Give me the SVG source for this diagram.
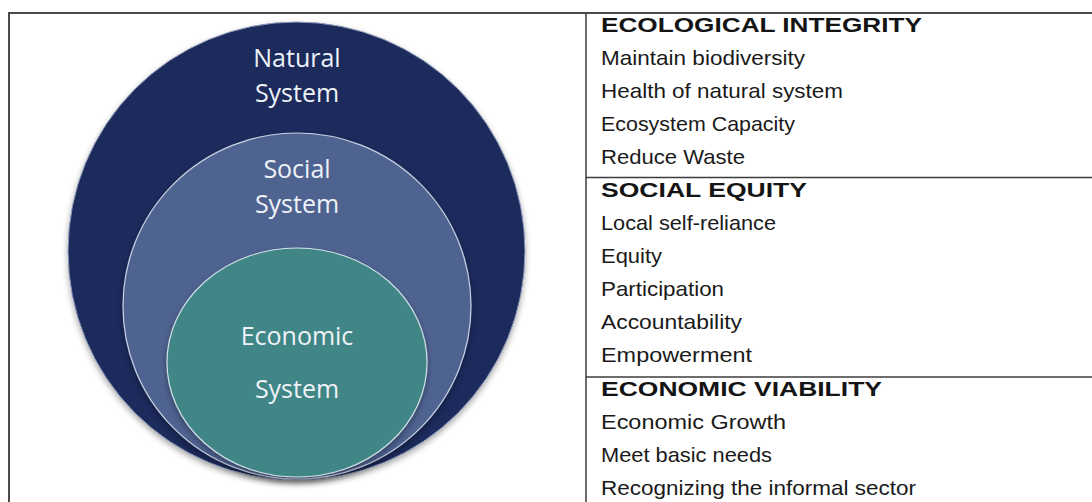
<svg xmlns="http://www.w3.org/2000/svg" width="1092" height="502" viewBox="0 0 1092 502">
  <defs>
    <style>
      .frame { stroke: #4a4a4a; stroke-width: 2; fill: none; }
      .rule { stroke: #3c3c3c; stroke-width: 1.5; fill: none; }
      .ring-label { font-family: "Open Sans", "DejaVu Sans", sans-serif; font-size: 25px; fill: #eef2f7; text-anchor: middle; }
      .head { font-family: "Liberation Sans", Arial, sans-serif; font-size: 21px; font-weight: bold; fill: #141414; }
      .item { font-family: "Liberation Sans", Arial, sans-serif; font-size: 21px; fill: #1a1a1a; }
    </style>
    <filter id="soft" x="-10%" y="-10%" width="120%" height="125%">
      <feGaussianBlur in="SourceAlpha" stdDeviation="3"/>
      <feOffset dy="3"/>
      <feComponentTransfer><feFuncA type="linear" slope="0.35"/></feComponentTransfer>
      <feMerge><feMergeNode/><feMergeNode in="SourceGraphic"/></feMerge>
    </filter>
  </defs>

  <rect width="1092" height="502" fill="#ffffff"/>

  <!-- outer frame and table rules -->
  <g id="frame">
    <path class="frame" d="M9,502 V13 H1092"/>
    <line class="rule" x1="586" y1="13" x2="586" y2="502"/>
    <line class="rule" x1="586" y1="177.5" x2="1092" y2="177.5"/>
    <line class="rule" x1="586" y1="377" x2="1092" y2="377"/>
  </g>

  <!-- nested systems -->
  <g id="natural-system">
    <ellipse cx="296.5" cy="251" rx="228.5" ry="229" fill="#1c2a5c" stroke="#8f9bbb" stroke-width="1" filter="url(#soft)"/>
    <text class="ring-label" x="297" y="67">Natural</text>
    <text class="ring-label" x="297" y="102">System</text>
  </g>
  <g id="social-system">
    <ellipse cx="297" cy="306" rx="174" ry="173" fill="#506391" stroke="#c9d2e4" stroke-width="1.2" filter="url(#soft)"/>
    <text class="ring-label" x="297" y="178">Social</text>
    <text class="ring-label" x="297" y="213">System</text>
  </g>
  <g id="economic-system">
    <ellipse cx="297" cy="362.5" rx="130" ry="114.5" fill="#408686" stroke="#cfe0e4" stroke-width="1.2" filter="url(#soft)"/>
    <text class="ring-label" x="297" y="345">Economic</text>
    <text class="ring-label" x="297" y="398">System</text>
  </g>

  <!-- principles table -->
  <g id="ecological-integrity">
    <text class="head" x="601" y="32" textLength="321" lengthAdjust="spacingAndGlyphs">ECOLOGICAL INTEGRITY</text>
    <text class="item" x="601" y="65" textLength="204" lengthAdjust="spacingAndGlyphs">Maintain biodiversity</text>
    <text class="item" x="601" y="98" textLength="242" lengthAdjust="spacingAndGlyphs">Health of natural system</text>
    <text class="item" x="601" y="131" textLength="194" lengthAdjust="spacingAndGlyphs">Ecosystem Capacity</text>
    <text class="item" x="601" y="164" textLength="144" lengthAdjust="spacingAndGlyphs">Reduce Waste</text>
  </g>
  <g id="social-equity">
    <text class="head" x="601" y="197" textLength="206" lengthAdjust="spacingAndGlyphs">SOCIAL EQUITY</text>
    <text class="item" x="601" y="230" textLength="175" lengthAdjust="spacingAndGlyphs">Local self-reliance</text>
    <text class="item" x="601" y="263" textLength="61" lengthAdjust="spacingAndGlyphs">Equity</text>
    <text class="item" x="601" y="296" textLength="123" lengthAdjust="spacingAndGlyphs">Participation</text>
    <text class="item" x="601" y="329" textLength="141" lengthAdjust="spacingAndGlyphs">Accountability</text>
    <text class="item" x="601" y="362" textLength="151" lengthAdjust="spacingAndGlyphs">Empowerment</text>
  </g>
  <g id="economic-viability">
    <text class="head" x="601" y="396" textLength="281" lengthAdjust="spacingAndGlyphs">ECONOMIC VIABILITY</text>
    <text class="item" x="601" y="429" textLength="185" lengthAdjust="spacingAndGlyphs">Economic Growth</text>
    <text class="item" x="601" y="462" textLength="171" lengthAdjust="spacingAndGlyphs">Meet basic needs</text>
    <text class="item" x="601" y="495" textLength="315" lengthAdjust="spacingAndGlyphs">Recognizing the informal sector</text>
  </g>
</svg>
